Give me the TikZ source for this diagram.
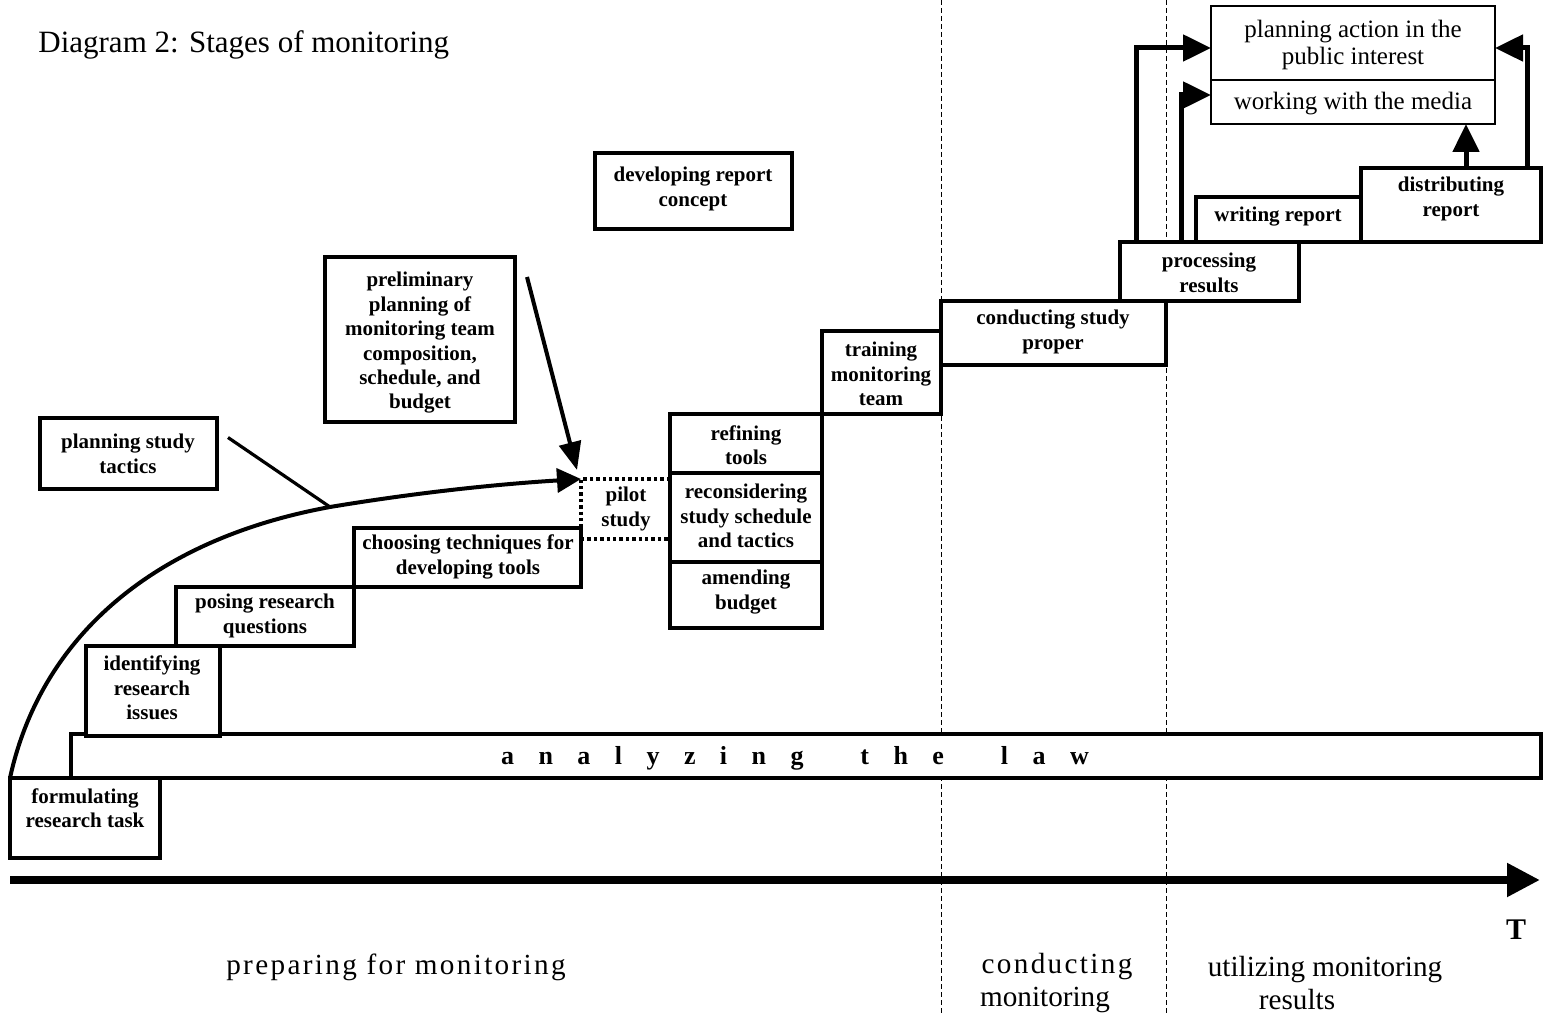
\documentclass[tikz,border=0pt]{standalone}
\usepackage{fontspec}
\setmainfont{Liberation Serif}
\newfontfamily\spacedfont[LetterSpace=8]{Liberation Serif}
\newfontfamily\lawfont[LetterSpace=94]{Liberation Serif}
\usetikzlibrary{arrows.meta,fit,calc}

% a stage box drawn from its corners, with its caption placed separately
\newcommand\stage[8]{%
  \node[stagebox, fit={(#2,#3) (#4,#5)}] (#1) {};
  \node[stagetext] (#1-text) at (#6,#7) {#8};}

\begin{document}
\begin{tikzpicture}[x=0.5pt,y=-0.5pt,
  stagebox/.style={draw, line width=2.2pt, fill=white, inner sep=0pt, outer sep=0pt},
  thinbox/.style={draw, line width=0.8pt, fill=white, inner sep=0pt, outer sep=0pt},
  stagetext/.style={font=\fontsize{10.5}{12.2}\selectfont\bfseries, align=center, inner sep=0pt},
  plaintext/.style={font=\fontsize{12.5}{13.5}\selectfont, align=center, inner sep=0pt},
  phasetext/.style={font=\fontsize{14.6}{16.5}\selectfont, align=center, inner sep=0pt},
  divider/.style={line width=0.5pt, dash pattern=on 2.5pt off 1.5pt},
  dotline/.style={line width=2pt, dash pattern=on 1.7pt off 1.5pt},
  curvearrow/.style={line width=2pt, -{Triangle[length=12pt,width=12pt]}},
  slantarrow/.style={line width=2pt, -{Triangle[length=14pt,width=11pt]}},
  toparrow/.style={line width=2.5pt, -{Triangle[length=14pt,width=13pt]}},
  axisline/.style={line width=4pt, -{Triangle[length=16.5pt,width=16pt]}}]

\useasboundingbox (0,0) rectangle (1548,1016);

% title
\node[anchor=west, inner sep=0pt, font=\fontsize{15.5}{18}\selectfont] (title) at (38,45) {Diagram 2: Stages of monitoring};

% phase dividers
\coordinate (divAtop) at (941,0);   \coordinate (divAbot) at (941,1016);
\coordinate (divBtop) at (1166,0);  \coordinate (divBbot) at (1166,1016);
\draw[divider] (divAtop) -- (divAbot);
\draw[divider] (divBtop) -- (divBbot);

% the long background activity
\node[stagebox, fit={(71,734) (1541,778)}] (law) {};
\node[inner sep=0pt, font=\lawfont\bfseries\fontsize{13}{15}\selectfont] (law-text) at (795,758)
  {analyzing \hspace{13pt}the \hspace{13pt}law};

% stages
\stage{formulate}{10}{778}{160}{858}{85}{808}{formulating\\research task}
\stage{identify}{86}{646}{220}{736}{152}{688}{identifying\\research\\issues}
\stage{pose}{176}{587}{354}{646}{265}{616}{posing research\\questions}
\stage{choose}{354}{528}{581}{587}{468}{557}{choosing techniques for\\developing tools}
\stage{refine}{670}{414}{822}{473}{746}{445}{refining\\tools}
\stage{reconsider}{670}{473}{822}{562}{746}{516}{reconsidering\\study schedule\\and tactics}
\stage{amend}{670}{562}{822}{628}{746}{592}{amending\\budget}
\stage{train}{822}{331}{941}{414}{881}{374}{training\\monitoring\\team}
\stage{conduct}{941}{301}{1166}{365}{1053}{332}{conducting study\\proper}
\stage{process}{1120}{242}{1299}{301}{1209}{273}{processing\\results}
\stage{write}{1196}{197}{1361}{242}{1278}{217}{writing report}
\stage{distrib}{1361}{168}{1541}{242}{1451}{199}{distributing\\report}
\stage{concept}{595}{153}{792}{229}{693}{189}{developing report\\concept}
\stage{prelim}{325}{257}{515}{422}{420}{343}{preliminary\\planning of\\monitoring team\\composition,\\schedule, and\\budget}
\stage{tactics}{40}{418}{217}{489}{128}{454}{planning study\\tactics}

% final outputs
\node[thinbox, fit={(1211,6) (1495,80)}] (act) {};
\node[plaintext] (act-text) at (1353,45) {planning action in the\\public interest};
\node[thinbox, fit={(1211,80) (1495,124)}] (media) {};
\node[plaintext] (media-text) at (1353,104) {working with the media};

% pilot study
\coordinate (pilotTL) at (581,479);
\coordinate (pilotBL) at (581,539);
\draw[dotline] (pilotTL -| reconsider.west) -- (pilotTL) -- (pilotTL |- choose.north);
\draw[dotline] (pilotBL) -- (pilotBL -| reconsider.west);
\node[stagetext] (pilot) at (626,509) {pilot\\study};

% preparation curve and its feeders
\draw[curvearrow] (formulate.north west) .. controls (40,640) and (150,540) .. (330,507) coordinate (bend)
  .. controls (420,492) and (500,484) .. (pilotTL);
\draw[line width=1.6pt] ([shift={(5.5pt,8pt)}]tactics.east) -- (bend);
\draw[slantarrow] ([shift={(6pt,-10pt)}]prelim.north east) -- ([shift={(-2pt,4.5pt)}]pilotTL);

% arrows into the outputs
\draw[toparrow] ([xshift=8pt]process.north west) |- ([yshift=-2.5pt]act.west);
\draw[toparrow] ([xshift=30.5pt]process.north west) |- ([yshift=3.5pt]media.west);
\draw[toparrow] ([xshift=-7pt]distrib.north east) |- ([yshift=-2.5pt]act.east);
\coordinate (distribUp) at ([xshift=7.5pt]distrib.north);
\draw[toparrow] (distribUp) -- (distribUp |- media.south);

% time axis
\coordinate (axisL) at (10,880);
\coordinate (axisR) at (1540,880);
\draw[axisline] (axisL) -- (axisR);
\node[inner sep=0pt, font=\fontsize{15}{17}\selectfont\bfseries] (T) at (1516,930) {T};

% phases
\node[phasetext, font=\spacedfont\fontsize{14.6}{16.5}\selectfont] (phaseA) at (396,967) {preparing for monitoring};
\node[phasetext] (phaseB) at (1057,983) {{\spacedfont conducting}\\monitoring\hspace*{12pt}};
\node[phasetext] (phaseC) at (1325,983) {utilizing monitoring\\results\hspace*{28pt}};

\end{tikzpicture}
\end{document}
